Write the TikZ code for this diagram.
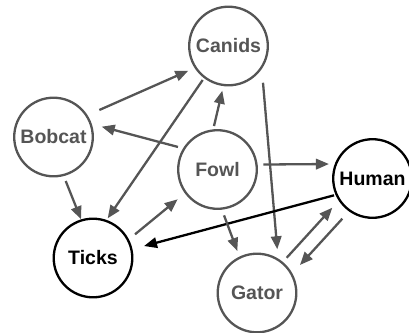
\documentclass[tikz,border=0pt]{standalone}
\usepackage{fontspec}
\setmainfont{Liberation Sans}
\usetikzlibrary{arrows.meta}
\definecolor{dg}{HTML}{555555}
\tikzset{
  animal/.style={circle, draw=dg, text=dg, line width=2.3pt, minimum size=78.6pt, inner sep=0pt,
    font=\fontsize{19.5}{22}\selectfont\bfseries},
  keyanimal/.style={animal, draw=black, text=black},
  link/.style={draw=dg, line width=2.3pt, -{Triangle[length=13pt,width=10.5pt]}},
  keylink/.style={link, draw=black},
}
\newcommand{\at}[3]{([shift={(#2:#3pt)}]#1.center)}
\begin{document}
\begin{tikzpicture}[x=1pt,y=-1pt]
\useasboundingbox (0,0) rectangle (409,332);
\node[animal] (C) at (228.5,46) {Canids};
\node[animal] (B) at (53.5,137) {Bobcat};
\node[animal] (F) at (217.5,169.5) {Fowl};
\node[keyanimal] (H) at (372.5,178.5) {Human};
\node[keyanimal] (T) at (93,258) {Ticks};
\node[animal] (G) at (257,293) {Gator};
\draw[link] \at{B}{30.5}{53.2} -- \at{C}{211.6}{47.2};
\draw[link] \at{F}{150.3}{45.5} -- \at{B}{12.1}{49.3};
\draw[link] \at{F}{94.6}{43.6} -- \at{C}{262.1}{45.1};
\draw[link] \at{C}{232.8}{42.7} -- \at{T}{69.7}{42.3};
\draw[link] \at{C}{313.2}{50.4} -- \at{G}{65.1}{48.2};
\draw[link] \at{F}{6.2}{46.1} -- \at{H}{161.6}{45.9};
\draw[link] \at{B}{285.5}{45.7} -- \at{T}{107.2}{40.5};
\draw[link] \at{T}{29.4}{48.2} -- \at{F}{216.8}{49.7};
\draw[keylink] \at{H}{203.6}{42} -- \at{T}{13.2}{52.4};
\draw[link] \at{F}{278.1}{46.3} -- \at{G}{115.1}{46.4};
\draw[link] \at{G}{49.9}{46.1} -- \at{H}{216}{49.7};
\draw[link] \at{H}{233.1}{50.3} -- \at{G}{33.1}{51.3};
\end{tikzpicture}
\end{document}
